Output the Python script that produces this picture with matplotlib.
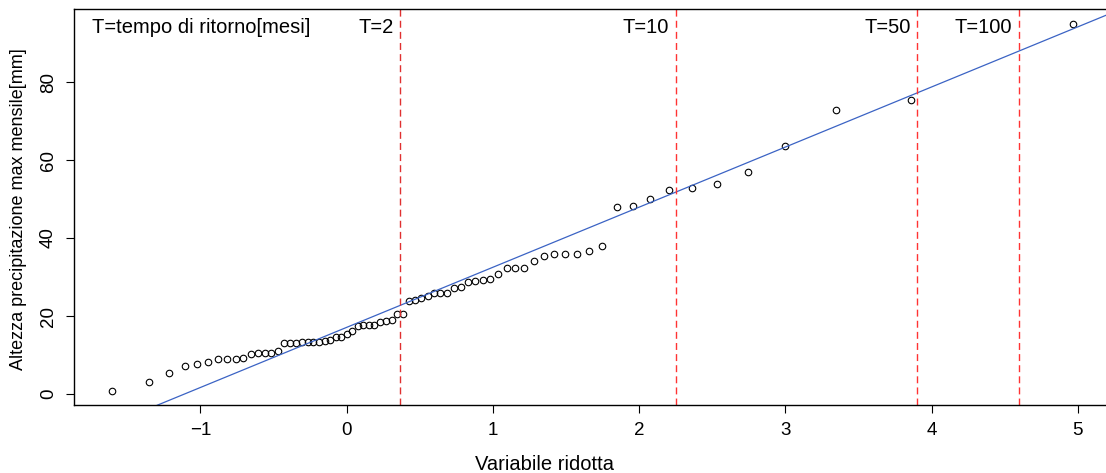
import matplotlib
matplotlib.use("Agg")
import matplotlib.pyplot as plt

plt.rcParams['font.family'] = ['Liberation Sans', 'DejaVu Sans']

# variabile ridotta di Gumbel (posizioni di plotting, n = 72)
var_ridotta = [-1.603, -1.354, -1.212, -1.107, -1.020, -0.945, -0.878, -0.816,
               -0.759, -0.706, -0.655, -0.607, -0.560, -0.515, -0.472, -0.429,
               -0.388, -0.347, -0.307, -0.267, -0.228, -0.190, -0.151, -0.113,
               -0.075, -0.037, 0.001, 0.038, 0.076, 0.114, 0.152, 0.190,
               0.229, 0.268, 0.307, 0.347, 0.387, 0.427, 0.468, 0.510,
               0.553, 0.596, 0.640, 0.685, 0.732, 0.779, 0.827, 0.877,
               0.929, 0.982, 1.037, 1.093, 1.153, 1.214, 1.278, 1.346,
               1.417, 1.492, 1.572, 1.657, 1.749, 1.848, 1.956, 2.075,
               2.207, 2.358, 2.532, 2.741, 2.999, 3.343, 3.861, 4.966]

# altezze di precipitazione ordinate [mm]
altezza = [0.9, 3.0, 5.5, 7.1, 7.6, 8.2, 8.9, 9.0, 9.1, 9.3, 10.2, 10.4,
           10.4, 10.6, 11.0, 13.1, 13.2, 13.2, 13.3, 13.3, 13.3, 13.4, 13.7, 13.8,
           14.6, 14.7, 15.3, 16.1, 17.5, 17.7, 17.7, 17.8, 18.4, 18.7, 19.1, 20.6,
           20.6, 23.9, 24.0, 24.6, 25.2, 25.8, 26.0, 26.0, 27.2, 27.5, 28.7, 29.0,
           29.2, 29.5, 30.8, 32.4, 32.4, 32.4, 34.2, 35.3, 35.8, 35.8, 36.0, 36.8,
           37.9, 47.9, 48.2, 50.1, 52.2, 52.7, 53.8, 56.9, 63.7, 72.7, 75.4, 94.9]

# retta di Gumbel
intercetta = 17.1
pendenza = 15.41

# tempi di ritorno e relativa variabile ridotta
tempi_ritorno = ["T=2", "T=10", "T=50", "T=100"]
y_tempi = [0.367, 2.250, 3.902, 4.600]
colori_tempi = ['#e03030', '#ff3333', '#ff3333', '#ff3333']

fig = plt.figure(figsize=(11.06, 4.73), dpi=100)
ax = fig.add_axes([0.0667, 0.1433, 0.9382, 0.8372])

ax.plot(var_ridotta, altezza, 'o', mfc='none', mec='black', ms=4.7, mew=0.8)
ax.axline((0, intercetta), slope=pendenza, color='#3b63c4', lw=0.9)

for lab, xv, c in zip(tempi_ritorno, y_tempi, colori_tempi):
    ax.axvline(xv, color=c, lw=1.0, ls=(0, (5, 3)))
    ax.annotate(lab, xy=(xv, 1), xycoords=('data', 'axes fraction'),
                xytext=(-5, -13.5), textcoords='offset points',
                ha='right', va='center', fontsize=14.5)

ax.text(0.018, 0.955, "T=tempo di ritorno[mesi]", transform=ax.transAxes,
        ha='left', va='center', fontsize=14.5)

ax.set_xlim(-1.866, 5.229)
ax.set_ylim(-2.86, 98.66)
ax.set_xticks([-1, 0, 1, 2, 3, 4, 5])
ax.set_yticks([0, 20, 40, 60, 80])
ax.set_yticklabels(['0', '20', '40', '60', '80'], rotation=90, va='center')
ax.tick_params(direction='out', length=6, width=0.8, labelsize=13.5, pad=6)
for s in ax.spines.values():
    s.set_linewidth(1.0)

ax.set_xlabel("Variabile ridotta", fontsize=14.5)
ax.xaxis.set_label_coords(0.454, -0.125)
ax.set_ylabel("Altezza precipitazione max mensile[mm]", fontsize=13)
ax.yaxis.set_label_coords(-0.045, 0.495)

fig.savefig("out.png", dpi=100)
